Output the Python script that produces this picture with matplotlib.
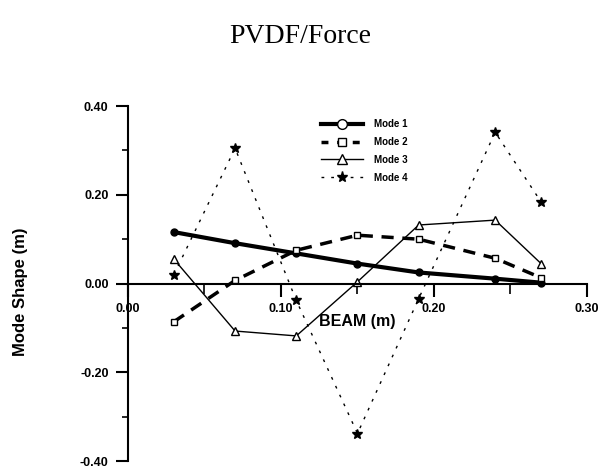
import numpy as np
import matplotlib.pyplot as plt
from matplotlib.lines import Line2D

beam = [0.03, 0.07, 0.11, 0.15, 0.19, 0.24, 0.27]
mode1 = [0.116, 0.091, 0.068, 0.045, 0.025, 0.011, 0.002]
mode2 = [-0.086, 0.007, 0.075, 0.109, 0.100, 0.057, 0.013]
mode3 = [0.055, -0.107, -0.118, 0.004, 0.132, 0.143, 0.045]
mode4 = [0.020, 0.305, -0.038, -0.338, -0.034, 0.341, 0.184]
labels = ["Mode 1", "Mode 2", "Mode 3", "Mode 4"]

fig = plt.figure(figsize=(6, 4.67), dpi=100)
ax = fig.add_axes([0.2133, 0.0128, 0.765, 0.76])

# data lines
ax.plot(beam, mode1, color='black', lw=3, marker='o', ms=5, mfc='black')
ax.plot(beam, mode2, color='black', lw=2.5, ls=(0, (3.5, 2.5)), marker='s', ms=5, mfc='white')
ax.plot(beam, mode3, color='black', lw=1, marker='^', ms=6, mfc='white')
ax.plot(beam, mode4, color='black', lw=1, ls=(0, (2, 5)), marker='*', ms=7, mfc='black')

ax.set_xlim(0, 0.30)
ax.set_ylim(-0.40, 0.40)

ax.spines['top'].set_visible(False)
ax.spines['right'].set_visible(False)
ax.spines['bottom'].set_position(('data', 0))
ax.spines['bottom'].set_linewidth(1.5)
ax.spines['left'].set_linewidth(1.5)

ax.set_xticks([0.0, 0.1, 0.2, 0.3])
ax.set_xticks([0.05, 0.15, 0.25], minor=True)
ax.set_yticks([-0.4, -0.2, 0.0, 0.2, 0.4])
ax.set_yticks([-0.3, -0.1, 0.1, 0.3], minor=True)
ax.xaxis.set_major_formatter(plt.FormatStrFormatter('%.2f'))
ax.yaxis.set_major_formatter(plt.FormatStrFormatter('%.2f'))
ax.tick_params(axis='both', which='major', direction='out', length=9, width=1.5,
               labelsize=9)
ax.tick_params(axis='both', which='minor', direction='out', length=4.5, width=1.2)
ax.tick_params(axis='x', which='minor', length=7)
ax.tick_params(axis='x', pad=5)
ax.tick_params(axis='y', pad=5)
for t in ax.get_xticklabels() + ax.get_yticklabels():
    t.set_fontweight('bold')
    t.set_family('Liberation Sans')

ax.text(0.150, -0.086, 'BEAM (m)', fontsize=11.5, fontweight='bold',
        family='Liberation Sans', ha='center', va='center')
fig.text(0.035, 0.375, 'Mode Shape (m)', rotation=90, fontsize=12, fontweight='bold',
         family='Liberation Sans', ha='center', va='center')
fig.text(0.5, 0.922, 'PVDF/Force', fontsize=20, family='Liberation Serif',
         ha='center', va='center')

# legend with open symbols
handles = [
    Line2D([], [], color='black', lw=3, marker='o', ms=7, mfc='white'),
    Line2D([], [], color='black', lw=2.5, ls=(0, (2, 2.5)), marker='s', ms=6, mfc='white'),
    Line2D([], [], color='black', lw=1, marker='^', ms=7, mfc='white'),
    Line2D([], [], color='black', lw=1, ls=(0, (2, 5)), marker='*', ms=8, mfc='black'),
]
leg = fig.legend(handles, labels, loc='upper left', bbox_to_anchor=(0.527, 0.755),
                 frameon=False, handlelength=4.3, handletextpad=1.1, labelspacing=0.8,
                 borderpad=0,
                 prop={'size': 7, 'weight': 'bold', 'family': 'Liberation Sans'})

fig.savefig('out.png', dpi=100)
